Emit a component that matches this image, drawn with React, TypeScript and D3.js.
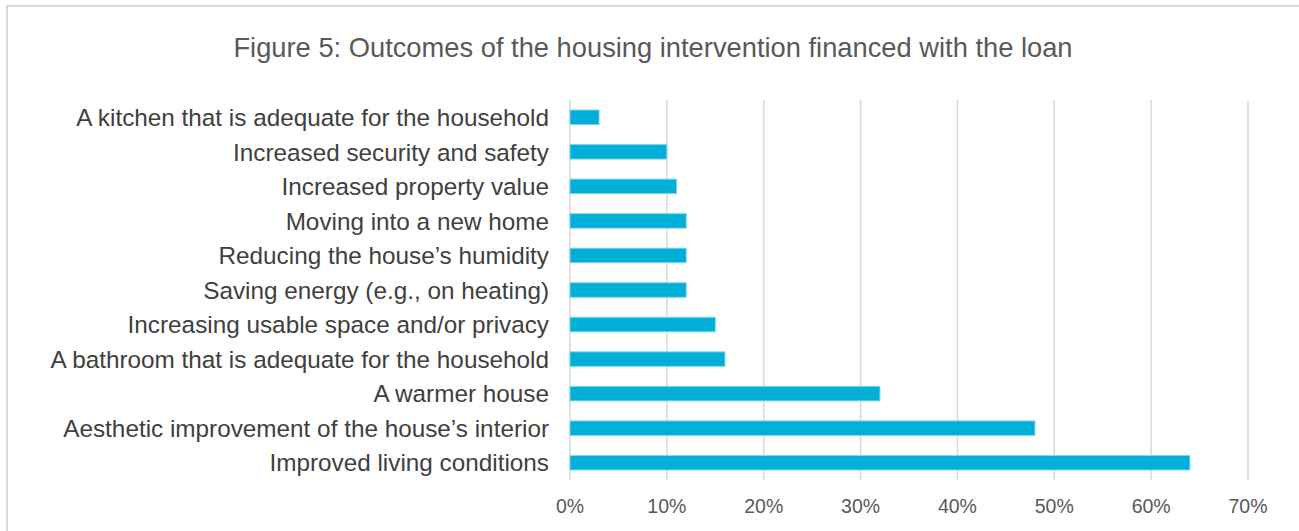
import React from "react";
import * as d3 from "d3";

const categories = [
  "A kitchen that is adequate for the household",
  "Increased security and safety",
  "Increased property value",
  "Moving into a new home",
  "Reducing the house\u2019s humidity",
  "Saving energy (e.g., on heating)",
  "Increasing usable space and/or privacy",
  "A bathroom that is adequate for the household",
  "A warmer house",
  "Aesthetic improvement of the house\u2019s interior",
  "Improved living conditions",
];
const values = [3, 10, 11, 12, 12, 12, 15, 16, 32, 48, 64];
const ticks = [0, 10, 20, 30, 40, 50, 60, 70];
const title = "Figure 5: Outcomes of the housing intervention financed with the loan";

const W = 1299;
const H = 531;
const font = "'Liberation Sans', Arial, sans-serif";

export default function App() {
  const x = d3.scaleLinear().domain([0, 70]).range([570, 1248]);
  const y = d3.scaleBand<string>().domain(categories).range([100, 480]).paddingInner(0.58).paddingOuter(0.29);
  return (
    <svg width={W} height={H} style={{ position: "absolute", left: 0, top: 0 }}>
      <rect x={0} y={0} width={W} height={H} fill="#fff" />
      <rect x={7} y={6} width={W + 20} height={H + 20} fill="none" stroke="#d9d9d9" strokeWidth={2} />
      <text x={653} y={56.5} textAnchor="middle" fontFamily={font} fontSize={27.3} fill="#595959">
        {title}
      </text>
      {ticks.map((t) => (
        <g key={t}>
          <line x1={x(t)} x2={x(t)} y1={100} y2={480} stroke="#d9d9d9" strokeWidth={1.5} />
          <text x={x(t)} y={512.5} textAnchor="middle" fontFamily={font} fontSize={19.5} fill="#595959">
            {t + "%"}
          </text>
        </g>
      ))}
      {categories.map((c, i) => (
        <g key={c}>
          <rect
            x={x(0)}
            y={y(c)!}
            width={x(values[i]) - x(0)}
            height={y.bandwidth()}
            fill="#00afd7"
            stroke="#80d6ec"
            strokeWidth={1}
          />
          <text
            x={549}
            y={y(c)! + y.bandwidth() / 2}
            dy="0.36em"
            textAnchor="end"
            fontFamily={font}
            fontSize={24.3}
            fill="#404040"
          >
            {c}
          </text>
        </g>
      ))}
    </svg>
  );
}
